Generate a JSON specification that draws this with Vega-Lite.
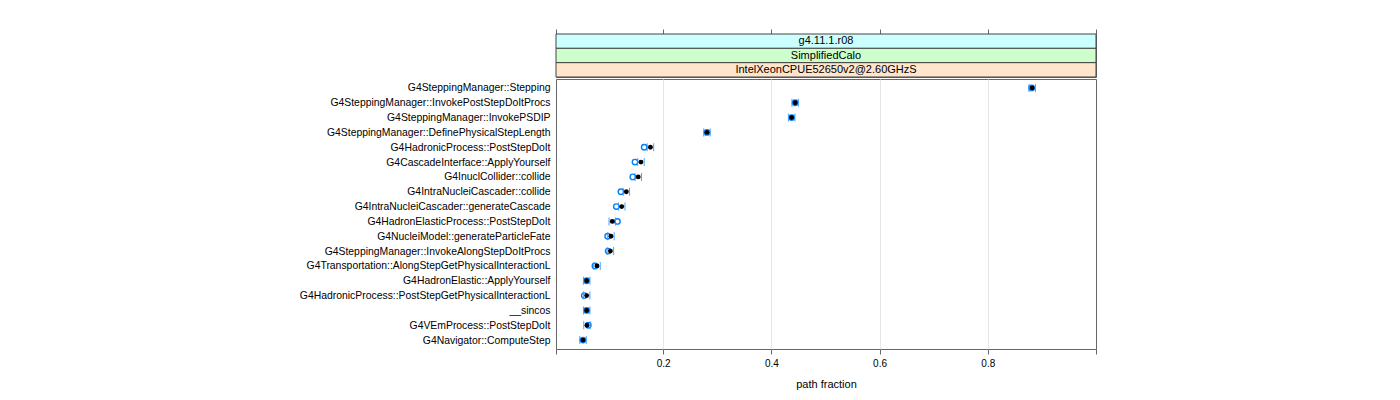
{
  "$schema": "https://vega.github.io/schema/vega-lite/v6.json",
  "background": "white",
  "padding": {"left": 55, "top": 28, "right": 5, "bottom": 5},
  "spacing": 0,
  "config": {
    "font": "Liberation Sans",
    "view": {"stroke": "#666", "strokeWidth": 1},
    "axis": {"labelColor": "black", "titleColor": "black", "labelFont": "Liberation Sans", "titleFont": "Liberation Sans"}
  },
  "vconcat": [
    {
      "width": 540,
      "height": 43,
      "data": {"values": [
        {"strip": "g4.11.1.r08"},
        {"strip": "SimplifiedCalo"},
        {"strip": "IntelXeonCPUE52650v2@2.60GHzS"}
      ]},
      "encoding": {
        "y": {"field": "strip", "type": "nominal", "sort": ["g4.11.1.r08", "SimplifiedCalo", "IntelXeonCPUE52650v2@2.60GHzS"],
              "scale": {"paddingInner": 0, "paddingOuter": 0},
              "axis": {"title": null, "labels": false, "ticks": false, "domain": false, "grid": false, "minExtent": 500, "maxExtent": 500}}
      },
      "layer": [
        {
          "mark": {"type": "rect", "stroke": "#444", "strokeWidth": 1},
          "encoding": {
            "x": {"datum": 0.002, "type": "quantitative", "scale": {"domain": [0.002, 1.0], "nice": false, "zero": false},
                  "axis": {"orient": "top", "title": null, "values": [0.002, 0.2, 0.4, 0.6, 0.8, 1.0], "labels": false, "domain": false, "grid": false, "tickSize": 5, "tickColor": "#666"}},
            "x2": {"datum": 1.0},
            "color": {"field": "strip", "type": "nominal", "legend": null,
                      "scale": {"domain": ["g4.11.1.r08", "SimplifiedCalo", "IntelXeonCPUE52650v2@2.60GHzS"], "range": ["#ccffff", "#ccffcc", "#ffe5cc"]}}
          }
        },
        {
          "mark": {"type": "text", "fontSize": 11, "color": "black", "font": "Liberation Sans"},
          "encoding": {
            "x": {"datum": 0.501, "type": "quantitative"},
            "text": {"field": "strip"}
          }
        }
      ]
    },
    {
      "width": 540,
      "height": 270,
      "data": {"values": [
        {"name": "G4SteppingManager::Stepping", "value": 0.882, "alt": 0.881, "lo": 0.876, "hi": 0.888},
        {"name": "G4SteppingManager::InvokePostStepDoItProcs", "value": 0.444, "alt": 0.444, "lo": 0.438, "hi": 0.450},
        {"name": "G4SteppingManager::InvokePSDIP", "value": 0.4375, "alt": 0.4375, "lo": 0.4315, "hi": 0.4435},
        {"name": "G4SteppingManager::DefinePhysicalStepLength", "value": 0.281, "alt": 0.281, "lo": 0.275, "hi": 0.287},
        {"name": "G4HadronicProcess::PostStepDoIt", "value": 0.1765, "alt": 0.165, "lo": 0.1705, "hi": 0.1825},
        {"name": "G4CascadeInterface::ApplyYourself", "value": 0.159, "alt": 0.148, "lo": 0.153, "hi": 0.165},
        {"name": "G4InuclCollider::collide", "value": 0.154, "alt": 0.144, "lo": 0.148, "hi": 0.160},
        {"name": "G4IntraNucleiCascader::collide", "value": 0.132, "alt": 0.122, "lo": 0.126, "hi": 0.138},
        {"name": "G4IntraNucleiCascader::generateCascade", "value": 0.1235, "alt": 0.1135, "lo": 0.1175, "hi": 0.1295},
        {"name": "G4HadronElasticProcess::PostStepDoIt", "value": 0.106, "alt": 0.1155, "lo": 0.100, "hi": 0.112},
        {"name": "G4NucleiModel::generateParticleFate", "value": 0.1035, "alt": 0.0975, "lo": 0.0975, "hi": 0.1095},
        {"name": "G4SteppingManager::InvokeAlongStepDoItProcs", "value": 0.1025, "alt": 0.0985, "lo": 0.0965, "hi": 0.1085},
        {"name": "G4Transportation::AlongStepGetPhysicalInteractionL", "value": 0.0778, "alt": 0.074, "lo": 0.0718, "hi": 0.0838},
        {"name": "G4HadronElastic::ApplyYourself", "value": 0.0587, "alt": 0.0587, "lo": 0.0527, "hi": 0.0647},
        {"name": "G4HadronicProcess::PostStepGetPhysicalInteractionL", "value": 0.0587, "alt": 0.0543, "lo": 0.0527, "hi": 0.0647},
        {"name": "__sincos", "value": 0.0587, "alt": 0.0587, "lo": 0.0527, "hi": 0.0647},
        {"name": "G4VEmProcess::PostStepDoIt", "value": 0.0593, "alt": 0.0617, "lo": 0.0533, "hi": 0.0653},
        {"name": "G4Navigator::ComputeStep", "value": 0.0519, "alt": 0.0519, "lo": 0.0459, "hi": 0.0579}
      ]},
      "encoding": {
        "y": {"field": "name", "type": "nominal", "sort": null,
              "scale": {"type": "point", "padding": 0.6},
              "axis": {"title": null, "ticks": false, "domain": false, "grid": false, "labelPadding": 6, "labelFontSize": 10.4, "labelLimit": 0, "minExtent": 500, "maxExtent": 500}}
      },
      "layer": [
        {
          "mark": {"type": "point", "shape": "circle", "filled": false, "color": "#0080ff", "size": 30, "strokeWidth": 1.4, "opacity": 1},
          "encoding": {
            "x": {"field": "alt", "type": "quantitative",
                  "scale": {"domain": [0.002, 1.0], "nice": false, "zero": false},
                  "axis": {"title": "path fraction", "titleFontSize": 11, "titleFontWeight": "normal", "titlePadding": 10,
                           "values": [0.002, 0.2, 0.4, 0.6, 0.8, 1.0],
                           "labelExpr": "datum.value > 0.1 && datum.value < 0.95 ? datum.label : ''",
                           "format": ".1f", "labelFontSize": 10, "labelPadding": 4, "tickSize": 5, "tickColor": "#666", "domain": false,
                           "grid": true, "gridColor": {"condition": {"test": "datum.value < 0.1 || datum.value > 0.95", "value": "transparent"}, "value": "#e6e6e6"}}}
          }
        },
        {
          "mark": {"type": "tick", "size": 8, "thickness": 1, "color": "#3399ff", "strokeDash": [2, 1], "opacity": 0.9},
          "encoding": {"x": {"field": "lo", "type": "quantitative"}}
        },
        {
          "mark": {"type": "tick", "size": 8, "thickness": 1, "color": "#3399ff", "strokeDash": [2, 1], "opacity": 0.9},
          "encoding": {"x": {"field": "hi", "type": "quantitative"}}
        },
        {
          "mark": {"type": "point", "shape": "circle", "filled": true, "color": "black", "size": 24, "opacity": 1},
          "encoding": {"x": {"field": "value", "type": "quantitative"}}
        }
      ]
    }
  ]
}
